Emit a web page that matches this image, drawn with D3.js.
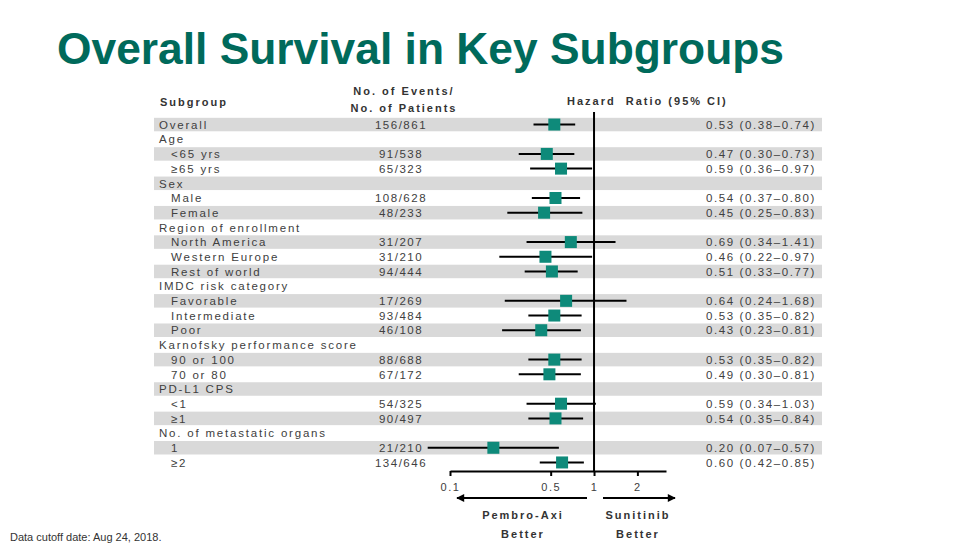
<!DOCTYPE html>
<html><head><meta charset="utf-8">
<script src="https://cdn.jsdelivr.net/npm/d3@7"></script>
<style>body{margin:0;background:#fff;} svg{display:block;}</style>
</head><body>
<svg id="c" width="974" height="547"></svg>
<script>
const subgroups = ["Overall","Age","<65 yrs","≥65 yrs","Sex","Male","Female","Region of enrollment","North America","Western Europe","Rest of world","IMDC risk category","Favorable","Intermediate","Poor","Karnofsky performance score","90 or 100","70 or 80","PD-L1 CPS","<1","≥1","No. of metastatic organs","1","≥2"];
const indented = [0,0,1,1,0,1,1,0,1,1,1,0,1,1,1,0,1,1,0,1,1,0,1,1];
const events = ["156/861","","91/538","65/323","","108/628","48/233","","31/207","31/210","94/444","","17/269","93/484","46/108","","88/688","67/172","","54/325","90/497","","21/210","134/646"];
const hr =  [0.53,null,0.47,0.59,null,0.54,0.45,null,0.69,0.46,0.51,null,0.64,0.53,0.43,null,0.53,0.49,null,0.59,0.54,null,0.20,0.60];
const lo =  [0.38,null,0.30,0.36,null,0.37,0.25,null,0.34,0.22,0.33,null,0.24,0.35,0.23,null,0.35,0.30,null,0.34,0.35,null,0.07,0.42];
const hi =  [0.74,null,0.73,0.97,null,0.80,0.83,null,1.41,0.97,0.77,null,1.68,0.82,0.81,null,0.82,0.81,null,1.03,0.84,null,0.57,0.85];
const tickValues = [0.1,0.5,1,2];
const tickLabels = ["0.1","0.5","1","2"];

const svg = d3.select("#c");
const txt = "#404040";
const font = "Arial, 'Liberation Sans', sans-serif";

// title
svg.append("text").attr("x",57).attr("y",64)
  .attr("font-family","'Liberation Sans Narrow', 'Arial Narrow', 'Liberation Sans', sans-serif")
  .attr("font-weight","bold").attr("font-size",44).attr("fill","#006a5b")
  .attr("textLength",727).attr("lengthAdjust","spacingAndGlyphs")
  .text("Overall Survival in Key Subgroups");

const x = d3.scaleLog().domain([0.1, 3.16]).range([450, 666]);
const y = d3.scaleBand().domain(d3.range(subgroups.length)).range([117.2, 469.8]).padding(0);
const bh = y.bandwidth();

// stripes
svg.append("g").selectAll("rect").data(d3.range(subgroups.length).filter(i=>i%2===0)).join("rect")
  .attr("x",154).attr("width",668).attr("y",i=>y(i)+0.6).attr("height",bh-1.2).attr("fill","#d9d9d9");

// headers
const hdr = svg.append("g").attr("font-family",font).attr("font-weight","bold").attr("font-size",11).attr("fill","#333").attr("letter-spacing",2);
hdr.append("text").attr("x",160).attr("y",106).text("Subgroup");
hdr.append("text").attr("x",404).attr("y",95).attr("text-anchor","middle").text("No. of Events/");
hdr.append("text").attr("x",404).attr("y",112).attr("text-anchor","middle").text("No. of Patients");
hdr.append("text").attr("x",567).attr("y",105).attr("xml:space","preserve").text("Hazard  Ratio (95% CI)");

// table texts
const tg = svg.append("g").attr("font-family",font).attr("font-size",11.5).attr("fill",txt).attr("letter-spacing",1.8);
tg.selectAll("text.lab").data(subgroups).join("text").attr("class","lab")
  .attr("x",(d,i)=>indented[i]?171:159).attr("y",(d,i)=>y(i)+bh/2+4.2).text(d=>d);
tg.selectAll("text.ev").data(events).join("text").attr("class","ev")
  .attr("x",401).attr("text-anchor","middle").attr("y",(d,i)=>y(i)+bh/2+4.2).attr("letter-spacing",1.5).text(d=>d);
const idx = d3.range(subgroups.length).filter(i=>hr[i]!==null);
const f2 = d3.format(".2f");
tg.selectAll("text.hr").data(idx).join("text").attr("class","hr")
  .attr("x",706).attr("y",i=>y(i)+bh/2+4.2).attr("letter-spacing",1.6)
  .text(i=>`${f2(hr[i])} (${f2(lo[i])}\u2013${f2(hi[i])})`);

// reference line
svg.append("line").attr("x1",x(1)).attr("x2",x(1)).attr("y1",112).attr("y2",471).attr("stroke","#000").attr("stroke-width",2);

// CIs and markers
const mg = svg.append("g");
mg.selectAll("line").data(idx).join("line")
  .attr("x1",i=>x(lo[i])).attr("x2",i=>x(hi[i])).attr("y1",i=>y(i)+bh/2).attr("y2",i=>y(i)+bh/2)
  .attr("stroke","#000").attr("stroke-width",2);
mg.selectAll("rect").data(idx).join("rect")
  .attr("x",i=>x(hr[i])-6).attr("y",i=>y(i)+bh/2-6).attr("width",12).attr("height",12).attr("fill","#0e8a7a");

// axis
const ax = svg.append("g").attr("transform","translate(0,471)")
  .call(d3.axisBottom(x).tickValues(tickValues).tickFormat((d,i)=>tickLabels[i]).tickSize(5).tickSizeOuter(0));
ax.select(".domain").attr("stroke","#000").attr("stroke-width",2);
ax.selectAll(".tick line").attr("stroke","#000").attr("stroke-width",2);
ax.selectAll(".tick text").attr("font-family",font).attr("font-size",11).attr("fill",txt).attr("letter-spacing",1.5).attr("dy","1.1em");

// arrows
const defs = svg.append("defs");
defs.append("marker").attr("id","ah").attr("viewBox","0 0 10 10").attr("refX",9).attr("refY",5)
  .attr("markerWidth",4.5).attr("markerHeight",4).attr("orient","auto-start-reverse").attr("markerUnits","strokeWidth")
  .append("path").attr("d","M0,0L10,5L0,10Z").attr("fill","#000");
svg.append("line").attr("x1",587).attr("x2",457).attr("y1",498).attr("y2",498).attr("stroke","#000").attr("stroke-width",2).attr("marker-end","url(#ah)");
svg.append("line").attr("x1",603).attr("x2",675).attr("y1",498).attr("y2",498).attr("stroke","#000").attr("stroke-width",2).attr("marker-end","url(#ah)");

const bl = svg.append("g").attr("font-family",font).attr("font-weight","bold").attr("font-size",11).attr("fill","#333").attr("letter-spacing",2).attr("text-anchor","middle");
bl.append("text").attr("x",523).attr("y",519).text("Pembro-Axi");
bl.append("text").attr("x",523).attr("y",538).text("Better");
bl.append("text").attr("x",638).attr("y",519).text("Sunitinib");
bl.append("text").attr("x",638).attr("y",538).text("Better");

svg.append("text").attr("x",10).attr("y",541).attr("font-family",font).attr("font-size",11).attr("fill","#333").text("Data cutoff date: Aug 24, 2018.");
</script>
</body></html>
